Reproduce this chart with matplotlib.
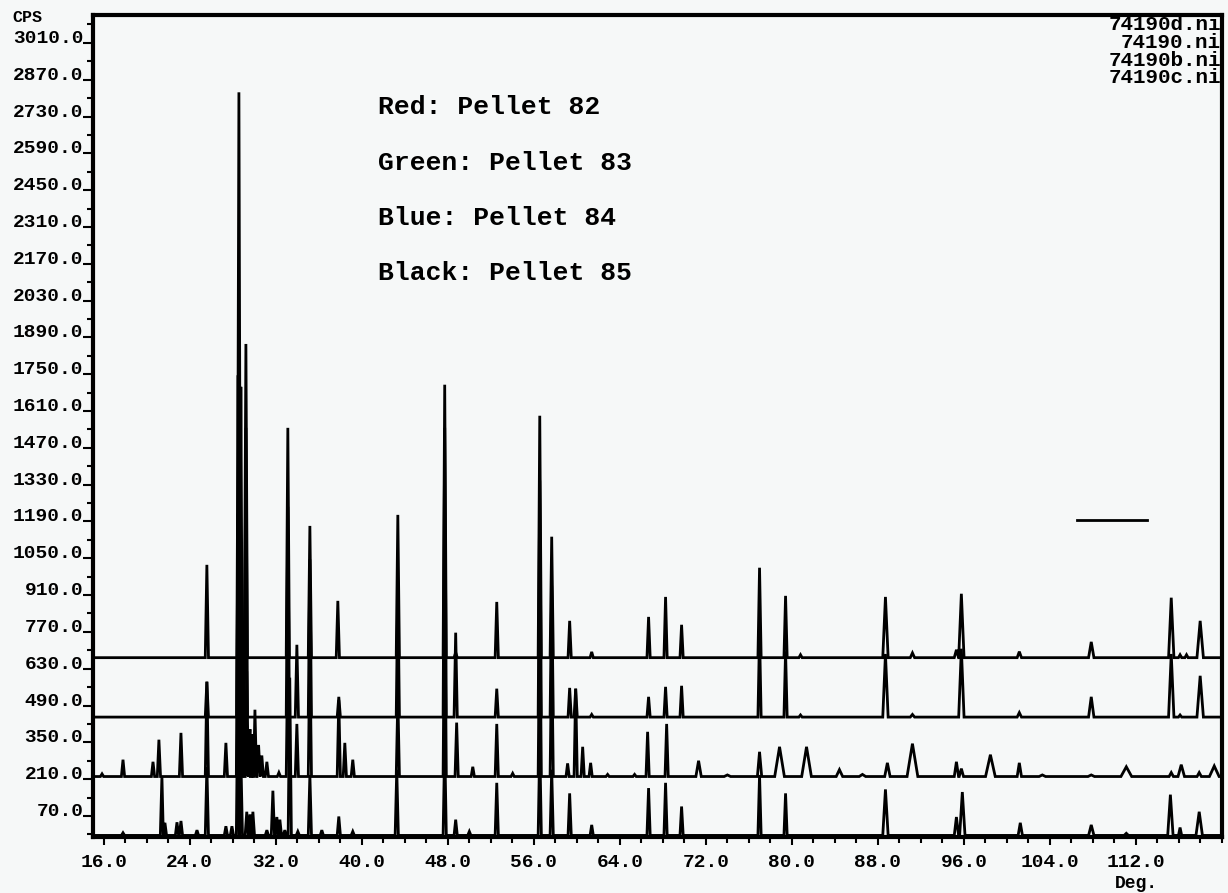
import numpy as np
import matplotlib.pyplot as plt
from matplotlib.ticker import MultipleLocator

# baselines (CPS) of the four stacked patterns, top to bottom
base_a = 672
base_b = 446
base_c = 220
base_d = -4

# trace A (top)
a_pos = [25.59, 28.57, 29.22, 33.12, 35.17, 37.77, 43.35, 47.71, 48.73, 52.55,
         56.55, 57.66, 59.33, 61.38, 66.67, 68.25, 69.74, 76.99, 79.41, 80.80,
         88.70, 91.21, 95.30, 95.76, 101.15, 107.84, 115.28, 116.10, 116.70, 117.97]
a_h = [353, 2150, 1193, 874, 501, 216, 543, 1038, 20, 212,
       920, 460, 140, 22, 155, 231, 125, 342, 235, 11,
       231, 18, 30, 243, 23, 60, 228, 11, 11, 140]
a_w = [0.15] * 20 + [0.25, 0.2, 0.2, 0.25, 0.2, 0.25, 0.25, 0.15, 0.15, 0.3]

# trace B
b_pos = [25.59, 28.50, 28.75, 29.22, 33.12, 33.96, 35.17, 37.86, 43.35, 47.71,
         48.73, 52.55, 56.55, 57.66, 59.33, 59.89, 61.38, 66.67, 68.25, 69.74,
         76.99, 79.41, 80.80, 88.70, 91.21, 95.76, 101.15, 107.84, 115.28, 116.10,
         117.97]
b_h = [135, 1300, 1256, 1100, 800, 275, 600, 77, 500, 1100,
       321, 108, 900, 500, 111, 108, 10, 77, 115, 119,
       320, 250, 8, 240, 10, 260, 17, 77, 240, 8,
       157]
b_w = [0.15] * 23 + [0.25, 0.2, 0.25, 0.2, 0.25, 0.25, 0.15, 0.3]

# trace C
c_pos = [15.84, 17.79, 20.58, 21.13, 23.18, 25.59, 27.36, 28.48, 28.75, 29.00,
         29.30, 29.60, 29.78, 30.06, 30.40, 30.70, 31.17, 32.29, 33.12, 33.96,
         35.17, 37.86, 38.42, 39.16, 43.35, 47.71, 48.82, 50.32, 52.55, 54.03,
         56.55, 57.66, 59.14, 59.89, 60.54, 61.28, 62.86, 65.37, 66.58, 68.35,
         71.32, 74.00, 76.99, 78.85, 81.36, 84.42, 86.56, 88.88, 91.21, 95.30,
         95.76, 98.46, 101.15, 103.29, 107.84, 111.10, 115.28, 116.21, 117.88, 119.28]
c_h = [10, 64, 56, 140, 166, 360, 128, 1000, 600, 350,
       400, 180, 160, 254, 120, 80, 56, 15, 500, 200,
       500, 290, 128, 64, 300, 800, 205, 37, 200, 12,
       700, 500, 50, 334, 113, 52, 8, 8, 170, 200,
       60, 6, 94, 113, 113, 26, 8, 52, 125, 56,
       30, 83, 52, 6, 6, 37, 15, 45, 15, 40]
c_w = [0.15] * 40 + [0.25, 0.3, 0.2, 0.45, 0.45, 0.3, 0.3, 0.25, 0.5, 0.2,
                     0.2, 0.45, 0.2, 0.3, 0.3, 0.5, 0.2, 0.3, 0.2, 0.45]

# trace D (bottom)
d_pos = [17.79, 21.41, 21.69, 22.81, 23.18, 24.67, 25.59, 27.36, 27.92, 28.48,
         28.75, 29.30, 29.60, 29.87, 31.17, 31.73, 32.10, 32.38, 32.84, 33.30,
         34.05, 35.17, 36.28, 37.86, 39.16, 43.25, 47.71, 48.73, 50.00, 52.55,
         56.55, 57.66, 59.33, 61.38, 66.67, 68.25, 69.74, 76.99, 79.41, 88.70,
         95.30, 95.85, 101.24, 107.84, 111.10, 115.20, 116.10, 117.88]
d_h = [10, 225, 48, 50, 55, 20, 260, 35, 35, 600,
       300, 90, 80, 90, 20, 170, 70, 60, 20, 600,
       15, 230, 20, 72, 15, 250, 350, 60, 15, 200,
       350, 250, 160, 40, 180, 200, 110, 230, 160, 175,
       70, 165, 48, 40, 8, 155, 30, 90]
d_w = [0.15] * 39 + [0.25, 0.2, 0.25, 0.2, 0.25, 0.2, 0.25, 0.15, 0.3]

# y axis labels and short marker line
y_labels = [70 + 140 * k for k in range(22)]
x_labels = [16 + 8 * k for k in range(13)]
marker_x = [106.5, 113.0]
marker_y = [1196, 1196]
legend_lines = ['Red: Pellet 82', 'Green: Pellet 83', 'Blue: Pellet 84', 'Black: Pellet 85']
file_names = ['74190d.ni', '74190.ni', '74190b.ni', '74190c.ni']


def trace_xy(base, pos, height, width):
    pts = [(15.0, base), (120.0, base)]
    for c, h, w in zip(pos, height, width):
        pts += [(c - w, base), (c, base + h), (c + w, base)]
    pts.sort(key=lambda p: p[0])
    return [p[0] for p in pts], [p[1] for p in pts]


font = 'Liberation Mono'
bg = '#f6f8f8'

fig = plt.figure(figsize=(12.28, 8.93), dpi=100, facecolor=bg)
ax = fig.add_axes([93 / 1228, 1 - 837 / 893, 1129 / 1228, 822 / 893])
ax.set_facecolor(bg)

for base, pos, hh, ww in [(base_a, a_pos, a_h, a_w), (base_b, b_pos, b_h, b_w),
                          (base_c, c_pos, c_h, c_w), (base_d, d_pos, d_h, d_w)]:
    x, y = trace_xy(base, pos, hh, ww)
    ax.plot(x, y, color='black', lw=2.0, solid_joinstyle='miter')

ax.plot(marker_x, marker_y, color='black', lw=2.0)

ax.set_xlim(15.0, 120.0)
ax.set_ylim(-10, 3116)

for s in ax.spines.values():
    s.set_linewidth(3)

ax.set_xticks(x_labels)
ax.set_xticklabels(['%.1f' % v for v in x_labels], family=font, weight='bold', fontsize=14)
ax.xaxis.set_minor_locator(MultipleLocator(2))
ax.set_yticks(y_labels)
ax.set_yticklabels(['%.1f' % v for v in y_labels], family=font, weight='bold', fontsize=14)
ax.yaxis.set_minor_locator(MultipleLocator(140))
ax.tick_params(axis='x', which='major', direction='out', length=6, width=1.5, pad=6)
ax.tick_params(axis='x', which='minor', direction='out', length=4, width=1.5)
ax.tick_params(axis='y', which='major', direction='out', length=7, width=1.5, pad=0)
ax.tick_params(axis='y', which='minor', direction='out', length=4, width=1.5)
plt.setp(ax.get_yticklabels(), va='baseline')

fig.text(12 / 1228, 1 - 18 / 893, 'CPS', family=font, weight='bold', fontsize=12, va='center')
fig.text(1136 / 1228, 1 - 883 / 893, 'Deg.', family=font, weight='bold', fontsize=13,
         ha='center', va='center')

for i, name in enumerate(file_names):
    fig.text(1221 / 1228, 1 - (25 + 17.5 * i) / 893, name, family=font, weight='bold',
             fontsize=15, ha='right', va='center')

for i, t in enumerate(legend_lines):
    fig.text(378 / 1228, 1 - (107 + 55.5 * i) / 893, t, family=font, weight='bold',
             fontsize=19, ha='left', va='center')

fig.savefig('out.png', dpi=100, facecolor=bg)
